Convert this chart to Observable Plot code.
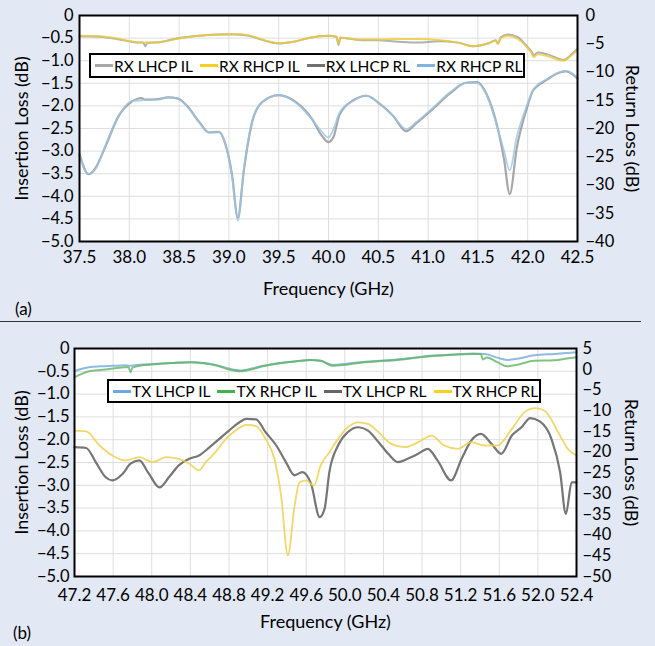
<!DOCTYPE html>
<html><head><meta charset="utf-8">
<script src="https://cdn.jsdelivr.net/npm/d3@7"></script>
<script src="https://cdn.jsdelivr.net/npm/@observablehq/plot@0.6"></script>
<style>
body{margin:0;background:#e2e8f4;font-family:Lato, sans-serif;}
#root{position:relative;width:655px;height:646px;overflow:hidden;}
.panel{position:absolute;left:0;}
.legend{position:absolute;background:#fff;border:2px solid #000;box-sizing:border-box;display:flex;align-items:center;font-size:15.5px;color:#000;padding:0 4px;white-space:nowrap;}
.item{display:flex;align-items:center;margin-right:7px;}
.sw{width:18px;height:3px;margin-right:1px;}
.tag{position:absolute;font-size:17px;line-height:1;color:#000;}
.sep{position:absolute;left:0;top:321px;width:641px;height:1px;background:#333;}
</style></head>
<body><div id="root"></div>
<script>
// ---------- Data: panel (a) RX ----------
const xTicksA = [37.5, 38.0, 38.5, 39.0, 39.5, 40.0, 40.5, 41.0, 41.5, 42.0, 42.5];
const rlTicksA = [0, -5, -10, -15, -20, -25, -30, -35, -40];
const ilTicks = [0, -0.5, -1.0, -1.5, -2.0, -2.5, -3.0, -3.5, -4.0, -4.5, -5.0];
const legendA = ["RX LHCP IL", "RX RHCP IL", "RX LHCP RL", "RX RHCP RL"];

const rxLhcpIL = [[37.5,-0.46],[37.7,-0.47],[37.9,-0.53],[38.05,-0.59],[38.14,-0.6],[38.16,-0.68],[38.18,-0.61],[38.3,-0.59],[38.5,-0.5],[38.7,-0.45],[38.9,-0.42],[39.05,-0.42],[39.2,-0.45],[39.35,-0.55],[39.5,-0.62],[39.65,-0.58],[39.8,-0.5],[40.0,-0.45],[40.08,-0.47],[40.1,-0.65],[40.12,-0.49],[40.3,-0.54],[40.5,-0.55],[40.7,-0.58],[40.9,-0.6],[41.1,-0.57],[41.3,-0.6],[41.45,-0.68],[41.6,-0.62],[41.68,-0.55],[41.7,-0.62],[41.73,-0.48],[41.8,-0.42],[41.9,-0.48],[42.0,-0.7],[42.04,-0.8],[42.06,-0.88],[42.1,-0.82],[42.2,-0.86],[42.36,-0.98],[42.44,-0.86],[42.5,-0.74]];
const rxRhcpIL = [[37.5,-0.45],[37.7,-0.46],[37.9,-0.52],[38.05,-0.58],[38.16,-0.6],[38.3,-0.59],[38.5,-0.51],[38.7,-0.45],[38.9,-0.42],[39.05,-0.41],[39.2,-0.44],[39.35,-0.54],[39.5,-0.61],[39.65,-0.58],[39.8,-0.5],[40.0,-0.45],[40.08,-0.47],[40.1,-0.62],[40.12,-0.49],[40.3,-0.53],[40.5,-0.53],[40.7,-0.52],[40.9,-0.52],[41.1,-0.54],[41.3,-0.6],[41.45,-0.68],[41.6,-0.62],[41.68,-0.56],[41.7,-0.63],[41.73,-0.5],[41.8,-0.45],[41.9,-0.52],[42.0,-0.72],[42.04,-0.84],[42.06,-0.92],[42.1,-0.86],[42.2,-0.9],[42.36,-1.0],[42.44,-0.88],[42.5,-0.76]];
const rxLhcpRL = [[37.5,-24.5],[37.59,-28.1],[37.66,-27.0],[37.76,-23.2],[37.89,-17.9],[38.03,-15.2],[38.12,-14.6],[38.16,-14.9],[38.29,-14.8],[38.39,-14.5],[38.49,-14.7],[38.59,-16.2],[38.7,-18.8],[38.8,-20.7],[38.9,-20.6],[38.96,-22.5],[39.03,-28.0],[39.09,-35.8],[39.15,-27.4],[39.23,-19.1],[39.33,-15.4],[39.5,-14.1],[39.67,-15.3],[39.83,-18.2],[39.93,-21.2],[40.0,-22.4],[40.05,-21.5],[40.11,-17.6],[40.25,-15.0],[40.38,-14.2],[40.52,-15.7],[40.65,-17.8],[40.78,-20.5],[40.88,-19.1],[41.05,-16.5],[41.22,-13.8],[41.38,-11.9],[41.49,-11.8],[41.59,-14.0],[41.69,-19.3],[41.76,-25.2],[41.82,-31.6],[41.89,-23.5],[41.99,-16.5],[42.05,-13.4],[42.09,-12.6],[42.19,-11.4],[42.32,-10.1],[42.39,-9.9],[42.5,-11.2]];
const rxRhcpRL = [[37.5,-24.8],[37.59,-28.0],[37.66,-27.2],[37.76,-23.0],[37.89,-17.8],[38.03,-15.1],[38.12,-15.0],[38.16,-14.9],[38.29,-14.9],[38.39,-14.5],[38.49,-14.7],[38.59,-16.3],[38.7,-18.9],[38.8,-20.7],[38.9,-20.7],[38.96,-22.5],[39.03,-28.3],[39.09,-36.3],[39.15,-27.2],[39.23,-18.9],[39.33,-15.4],[39.5,-14.1],[39.67,-15.4],[39.83,-18.3],[39.93,-20.5],[40.0,-21.6],[40.05,-20.1],[40.11,-17.2],[40.25,-15.1],[40.38,-14.2],[40.52,-15.7],[40.65,-17.8],[40.78,-20.1],[40.88,-18.9],[41.05,-16.3],[41.22,-13.6],[41.38,-11.9],[41.49,-11.9],[41.59,-14.2],[41.69,-19.5],[41.76,-23.8],[41.82,-27.4],[41.89,-21.5],[41.99,-16.0],[42.05,-13.3],[42.09,-12.4],[42.19,-11.3],[42.32,-10.0],[42.39,-9.8],[42.5,-11.0]];

// ---------- Data: panel (b) TX ----------
const xTicksB = [47.2, 47.6, 48.0, 48.4, 48.8, 49.2, 49.6, 50.0, 50.4, 50.8, 51.2, 51.6, 52.0, 52.4];
const rlTicksB = [5, 0, -5, -10, -15, -20, -25, -30, -35, -40, -45, -50];
const legendB = ["TX LHCP IL", "TX RHCP IL", "TX LHCP RL", "TX RHCP RL"];

const txLhcpIL = [[47.2,-0.5],[47.25,-0.46],[47.35,-0.41],[47.47,-0.39],[47.6,-0.38],[47.72,-0.37],[47.78,-0.38],[47.9,-0.35],[48.0,-0.34],[48.2,-0.32],[48.4,-0.3],[48.55,-0.32],[48.68,-0.37],[48.8,-0.44],[48.92,-0.48],[49.05,-0.43],[49.15,-0.38],[49.36,-0.31],[49.5,-0.28],[49.64,-0.25],[49.75,-0.27],[49.88,-0.36],[50.0,-0.34],[50.16,-0.3],[50.35,-0.27],[50.54,-0.24],[50.75,-0.19],[50.95,-0.15],[51.15,-0.13],[51.33,-0.11],[51.45,-0.12],[51.58,-0.2],[51.68,-0.25],[51.8,-0.22],[51.96,-0.15],[52.17,-0.12],[52.3,-0.1],[52.4,-0.08]];
const txRhcpIL = [[47.2,-0.63],[47.25,-0.58],[47.35,-0.5],[47.47,-0.47],[47.6,-0.44],[47.72,-0.41],[47.76,-0.41],[47.78,-0.52],[47.8,-0.42],[47.9,-0.37],[48.0,-0.35],[48.2,-0.32],[48.4,-0.3],[48.55,-0.33],[48.68,-0.38],[48.8,-0.46],[48.92,-0.5],[49.05,-0.45],[49.15,-0.39],[49.36,-0.31],[49.5,-0.28],[49.64,-0.25],[49.75,-0.27],[49.88,-0.38],[50.0,-0.36],[50.16,-0.31],[50.35,-0.28],[50.54,-0.25],[50.75,-0.2],[50.95,-0.16],[51.15,-0.13],[51.33,-0.12],[51.41,-0.12],[51.43,-0.24],[51.47,-0.2],[51.58,-0.3],[51.68,-0.39],[51.8,-0.35],[51.96,-0.27],[52.17,-0.26],[52.3,-0.22],[52.4,-0.19]];
const txLhcpRL = [[47.2,-18.8],[47.32,-19.0],[47.42,-22.4],[47.52,-26.0],[47.59,-26.8],[47.7,-25.2],[47.78,-22.8],[47.87,-22.0],[47.97,-25.2],[48.08,-28.5],[48.18,-26.0],[48.28,-23.2],[48.39,-21.6],[48.49,-20.8],[48.6,-18.8],[48.7,-16.8],[48.8,-14.8],[48.91,-12.8],[48.98,-12.0],[49.08,-12.1],[49.18,-15.2],[49.29,-18.4],[49.39,-22.4],[49.48,-25.6],[49.56,-24.8],[49.65,-27.6],[49.74,-35.7],[49.79,-33.7],[49.84,-24.8],[49.93,-18.4],[50.03,-15.2],[50.14,-14.0],[50.24,-14.8],[50.35,-17.6],[50.45,-20.4],[50.55,-22.4],[50.65,-21.6],[50.76,-20.4],[50.86,-19.2],[50.96,-22.0],[51.1,-26.8],[51.21,-21.6],[51.31,-17.2],[51.41,-15.6],[51.52,-18.0],[51.62,-20.4],[51.73,-16.0],[51.83,-14.0],[51.92,-11.8],[52.02,-12.6],[52.14,-16.8],[52.23,-24.8],[52.29,-34.9],[52.35,-27.3],[52.4,-27.3]];
const txRhcpRL = [[47.2,-14.8],[47.32,-15.0],[47.46,-18.4],[47.59,-20.8],[47.73,-22.0],[47.87,-21.2],[48.01,-22.4],[48.15,-21.2],[48.28,-21.6],[48.39,-22.8],[48.49,-24.4],[48.56,-22.4],[48.66,-20.0],[48.77,-16.8],[48.87,-14.8],[48.98,-13.4],[49.08,-13.7],[49.18,-16.8],[49.27,-21.6],[49.34,-30.5],[49.41,-44.9],[49.48,-32.9],[49.53,-27.3],[49.6,-26.8],[49.68,-28.1],[49.75,-23.2],[49.84,-20.0],[49.93,-16.8],[50.03,-14.0],[50.14,-12.8],[50.24,-13.2],[50.35,-15.2],[50.48,-18.0],[50.62,-18.8],[50.76,-17.6],[50.9,-16.0],[51.03,-18.4],[51.17,-19.2],[51.31,-17.6],[51.45,-18.4],[51.58,-18.4],[51.73,-14.4],[51.86,-10.4],[51.97,-9.4],[52.07,-10.0],[52.21,-15.2],[52.31,-19.2],[52.4,-20.8]];

// ---------- Rendering ----------
const fmtIL = v => (Math.abs(v) < 1e-9 ? "0" : d3.format(".1f")(v));
const fmtInt = d3.format("d");

function panel(o) {
  const {toIL, fromIL} = o;
  return Plot.plot({
    width: 655, height: o.height,
    marginLeft: o.ml, marginRight: o.mr, marginTop: o.mt, marginBottom: o.mb,
    style: {background: "transparent", fontFamily: "Lato, sans-serif", fontSize: "17px", color: "#000", overflow: "visible"},
    x: {domain: o.xDomain},
    y: {domain: [-5, 0]},
    marks: [
      Plot.frame({fill: "#fff"}),
      Plot.gridX(o.xTicks, {stroke: "#dedede", strokeOpacity: 1}),
      Plot.gridY(ilTicks, {stroke: "#dedede", strokeOpacity: 1}),
      ...o.series.map(s => Plot.line(s.data, {
        x: d => d[0],
        y: d => (s.rl ? toIL(d[1]) : d[1]),
        stroke: s.color, strokeWidth: s.w, strokeOpacity: s.op, curve: "monotone-x"
      })),
      Plot.frame({stroke: "#000", strokeWidth: 2}),
      Plot.axisX(o.xTicks, {tickSize: 0, tickPadding: o.xPad, tickFormat: d3.format(".1f"), label: null}),
      Plot.axisY(ilTicks, {tickSize: 0, tickPadding: o.lPad, tickFormat: fmtIL, label: null, fontSize: 16.5}),
      Plot.axisY(o.rlTicks.map(toIL), {anchor: "right", tickSize: 0, tickPadding: o.rPad, tickFormat: v => fmtInt(Math.round(fromIL(v))), label: null, fontSize: 16.5}),
      Plot.text(["Insertion Loss (dB)"], {frameAnchor: "left", dx: o.ylDx, rotate: -90, textAnchor: "middle", lineAnchor: "middle", fontSize: 18}),
      Plot.text(["Return Loss (dB)"], {frameAnchor: "right", dx: o.yrDx, rotate: 90, textAnchor: "middle", lineAnchor: "middle", fontSize: 18}),
      Plot.text(["Frequency (GHz)"], {frameAnchor: "bottom", dy: o.xlDy, textAnchor: "middle", lineAnchor: "middle", fontSize: 18})
    ]
  });
}

const root = document.getElementById("root");

function addLegend(names, colors, box) {
  const lg = document.createElement("div");
  lg.className = "legend";
  Object.assign(lg.style, {left: box[0] + "px", top: box[1] + "px", width: box[2] + "px", height: box[3] + "px"});
  names.forEach((n, i) => {
    const it = document.createElement("div");
    it.className = "item";
    const sw = document.createElement("span");
    sw.className = "sw";
    sw.style.background = colors[i];
    const t = document.createElement("span");
    t.textContent = n;
    it.appendChild(sw); it.appendChild(t);
    lg.appendChild(it);
  });
  root.appendChild(lg);
}
function addTag(text, left, top) {
  const d = document.createElement("div");
  d.className = "tag";
  d.textContent = text;
  d.style.left = left + "px"; d.style.top = top + "px";
  root.appendChild(d);
}

// Panel (a)
const colA = ["#a8a8a8", "#f6d21e", "#707070", "#7db4e2"];
const chartA = panel({
  height: 300, ml: 79, mr: 78, mt: 15, mb: 59,
  xDomain: [37.5, 42.5], xTicks: xTicksA, rlTicks: rlTicksA,
  toIL: v => v / 8, fromIL: v => v * 8,
  xPad: 9, lPad: 6, rPad: 8, ylDx: -57, yrDx: 54, xlDy: 48,
  series: [
    {data: rxLhcpIL, color: colA[0], w: 2, op: 0.9},
    {data: rxRhcpIL, color: "#eccb3c", w: 2, op: 0.8},
    {data: rxLhcpRL, rl: true, color: "#8a8a8a", w: 2.2, op: 0.75},
    {data: rxRhcpRL, rl: true, color: "#9cc4e4", w: 1.8, op: 0.8}
  ]
});
chartA.classList.add("panel");
chartA.style.top = "0px";
root.appendChild(chartA);

// Panel (b)
const colB = ["#6fa8dc", "#3db54a", "#666666", "#f6d21e"];
const chartB = panel({
  height: 324, ml: 74, mr: 79, mt: 26, mb: 70,
  xDomain: [47.2, 52.4], xTicks: xTicksB, rlTicks: rlTicksB,
  toIL: v => (v - 5) / 11, fromIL: v => v * 11 + 5,
  xPad: 12, lPad: 5, rPad: 6, ylDx: -52, yrDx: 54, xlDy: 46,
  series: [
    {data: txLhcpIL, color: "#7aaede", w: 2, op: 0.85},
    {data: txRhcpIL, color: "#62b562", w: 2, op: 0.8},
    {data: txLhcpRL, rl: true, color: "#676767", w: 2.2, op: 0.9},
    {data: txRhcpRL, rl: true, color: "#f0d050", w: 1.8, op: 0.85}
  ]
});
chartB.classList.add("panel");
chartB.style.top = "322px";
root.appendChild(chartB);

addLegend(legendA, colA, [89, 53, 436, 25]);
addLegend(legendB, colB, [107, 379, 434, 24]);
addTag("(a)", 15, 300);
addTag("(b)", 13, 624);
const sep = document.createElement("div");
sep.className = "sep";
root.appendChild(sep);
</script>
</body></html>
